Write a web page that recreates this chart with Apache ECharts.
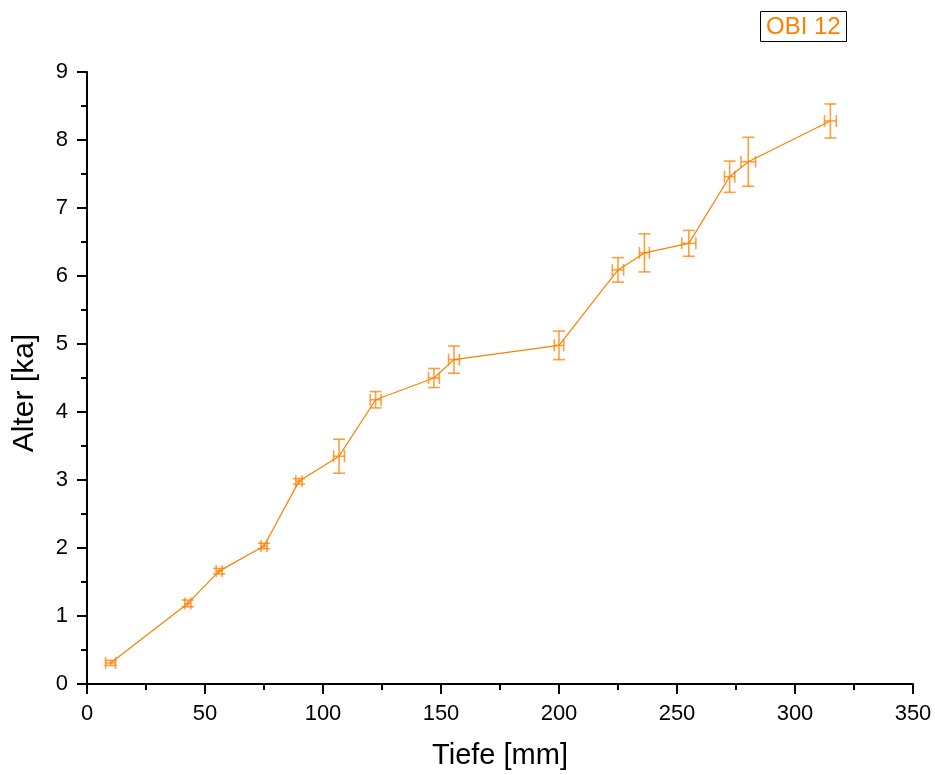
<!DOCTYPE html>
<html>
<head>
<meta charset="utf-8">
<script src="https://cdn.jsdelivr.net/npm/echarts@6/dist/echarts.min.js"></script>
<style>html,body{margin:0;padding:0;background:#fff;}#c{width:935px;height:775px;}</style>
</head>
<body>
<div id="c"></div>
<script>
const depth = [10, 42.7, 56, 75, 89.8, 106.8, 122.3, 147, 155.5, 200, 225, 236.2, 255, 272.3, 280.2, 315];
const age = [0.31, 1.185, 1.66, 2.03, 2.98, 3.35, 4.18, 4.50, 4.77, 4.98, 6.09, 6.34, 6.48, 7.46, 7.68, 8.28];
const depthErr = [2.1, 1.3, 1.3, 1.3, 1.3, 2.3, 2.3, 2.3, 2.3, 2.0, 2.4, 2.1, 3.0, 2.2, 3.1, 2.5];
const ageErr = [0.037, 0.05, 0.04, 0.04, 0.04, 0.25, 0.12, 0.14, 0.20, 0.21, 0.18, 0.28, 0.19, 0.23, 0.36, 0.25];
const seriesName = 'OBI 12';
const xTicks = [0, 350, 50];
const yTicks = [0, 9, 1];

const color = '#ff8000';
const lineData = depth.map((d, i) => [d, age[i]]);
const errData = depth.map((d, i) => [d, age[i], depthErr[i], ageErr[i]]);

const chart = echarts.init(document.getElementById('c'));
const font = '"Liberation Sans", Arial, sans-serif';
chart.setOption({
  animation: false,
  backgroundColor: '#fff',
  title: {
    text: seriesName,
    left: 760, top: 11,
    padding: [4, 6, 3, 6],
    borderColor: '#000', borderWidth: 1,
    textStyle: { color: color, fontSize: 24, fontWeight: 'normal', fontFamily: font, lineHeight: 24 }
  },
  grid: { left: 87, right: 22, top: 72, bottom: 90 },
  xAxis: {
    type: 'value', min: xTicks[0], max: xTicks[1], interval: xTicks[2],
    name: 'Tiefe [mm]', nameLocation: 'middle', nameGap: 57,
    nameTextStyle: { fontSize: 29, color: '#000', fontFamily: font },
    axisLine: { show: true, lineStyle: { color: '#000', width: 2 } },
    axisTick: { show: true, length: 10, lineStyle: { color: '#000', width: 2 } },
    minorTick: { show: true, splitNumber: 2, length: 6, lineStyle: { color: '#000', width: 2 } },
    axisLabel: { fontSize: 22, color: '#000', margin: 19, fontFamily: font },
    splitLine: { show: false }
  },
  yAxis: {
    type: 'value', min: yTicks[0], max: yTicks[1], interval: yTicks[2],
    name: 'Alter [ka]', nameLocation: 'middle', nameGap: 47,
    nameTextStyle: { fontSize: 30, color: '#000', fontFamily: font, padding: [0, 30, 0, 0] },
    axisLine: { show: true, lineStyle: { color: '#000', width: 2 } },
    axisTick: { show: true, length: 10, lineStyle: { color: '#000', width: 2 } },
    minorTick: { show: true, splitNumber: 2, length: 6, lineStyle: { color: '#000', width: 2 } },
    axisLabel: { fontSize: 22, color: '#000', margin: 19, fontFamily: font },
    splitLine: { show: false }
  },
  series: [
    {
      type: 'line', name: seriesName, data: lineData,
      showSymbol: false, symbol: 'none',
      lineStyle: { color: color, width: 1.2 }, z: 3
    },
    {
      type: 'custom', name: seriesName + ' err', data: errData,
      encode: { x: 0, y: 1 },
      z: 4,
      renderItem: function (params, api) {
        const x = api.value(0), y = api.value(1), xe = api.value(2), ye = api.value(3);
        const c = api.coord([x, y]);
        const top = api.coord([x, y + ye]);
        const bot = api.coord([x, y - ye]);
        const l = api.coord([x - xe, y]);
        const r = api.coord([x + xe, y]);
        const cap = 6;
        const st = { stroke: color, lineWidth: 1.6, opacity: 0.75 };
        const ln = (x1, y1, x2, y2) => ({ type: 'line', shape: { x1, y1, x2, y2 }, style: st });
        return {
          type: 'group',
          children: [
            ln(c[0], top[1], c[0], bot[1]),
            ln(c[0] - cap, top[1], c[0] + cap, top[1]),
            ln(c[0] - cap, bot[1], c[0] + cap, bot[1]),
            ln(l[0], c[1], r[0], c[1]),
            ln(l[0], c[1] - cap, l[0], c[1] + cap),
            ln(r[0], c[1] - cap, r[0], c[1] + cap)
          ]
        };
      }
    }
  ]
});
</script>
</body>
</html>
